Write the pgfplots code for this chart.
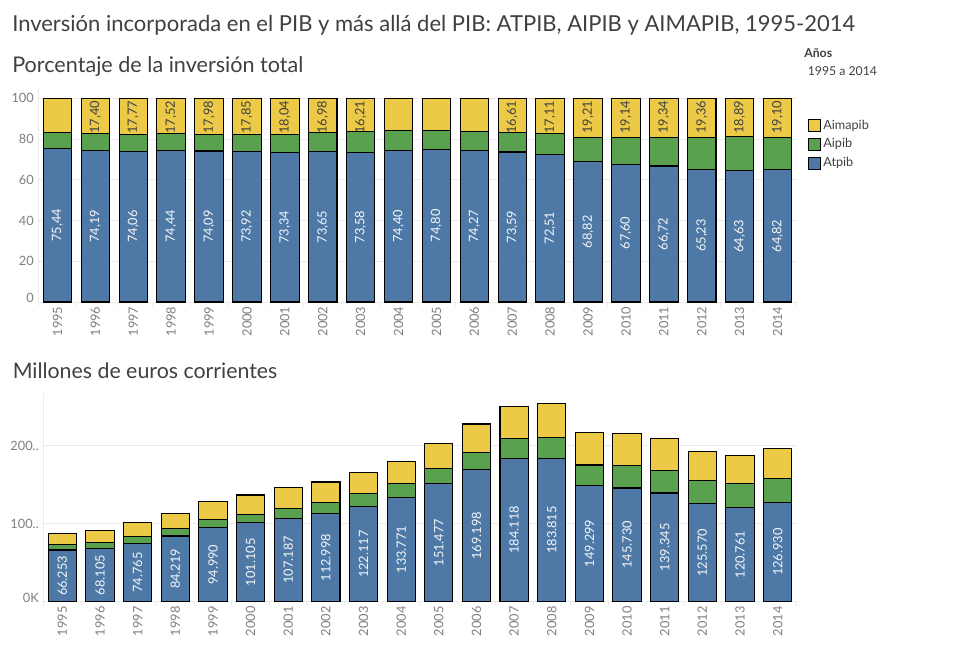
\documentclass[border=0pt]{standalone}
\usepackage{pgfplots}
\usepackage{pgfplotstable}
\pgfplotsset{compat=1.18}
\usepackage{fontspec}
\setmainfont{Lato}
\definecolor{cblue}{HTML}{4E79A7}
\definecolor{cgreen}{HTML}{59A14F}
\definecolor{cyellow}{HTML}{EDC948}
\definecolor{ttl}{HTML}{404040}
\definecolor{tickc}{HTML}{7F7F7F}
\definecolor{grd}{HTML}{EBEBEB}

\pgfplotstableread{
x  atpib aipib aimapib latp  laim
0  75.44 7.76  16.80   75,44 {}
1  74.19 8.41  17.40   74,19 17,40
2  74.06 8.17  17.77   74,06 17,77
3  74.44 8.04  17.52   74,44 17,52
4  74.09 7.93  17.98   74,09 17,98
5  73.92 8.23  17.85   73,92 17,85
6  73.34 8.62  18.04   73,34 18,04
7  73.65 9.37  16.98   73,65 16,98
8  73.58 10.21 16.21   73,58 16,21
9  74.40 9.90  15.70   74,40 {}
10 74.80 9.50  15.70   74,80 {}
11 74.27 9.53  16.20   74,27 {}
12 73.59 9.80  16.61   73,59 16,61
13 72.51 10.38 17.11   72,51 17,11
14 68.82 11.97 19.21   68,82 19,21
15 67.60 13.26 19.14   67,60 19,14
16 66.72 13.94 19.34   66,72 19,34
17 65.23 15.41 19.36   65,23 19,36
18 64.63 16.48 18.89   64,63 18,89
19 64.82 16.08 19.10   64,82 19,10
}\toptab

\pgfplotstableread{
x  atpib   aipib  aimapib latp
0  66.253  6.815  14.754  66.253
1  68.105  7.720  15.973  68.105
2  74.765  8.248  17.939  74.765
3  84.219  9.096  19.822  84.219
4  94.990  10.167 23.052  94.990
5  101.105 11.257 24.415  101.105
6  107.187 12.598 26.365  107.187
7  112.998 14.376 26.052  112.998
8  122.117 16.945 26.902  122.117
9  133.771 17.800 28.229  133.771
10 151.477 19.238 31.794  151.477
11 169.198 21.711 36.907  169.198
12 184.118 24.519 41.557  184.118
13 183.815 26.313 43.374  183.815
14 149.299 25.968 41.674  149.299
15 145.730 28.586 41.262  145.730
16 139.345 29.114 40.392  139.345
17 125.570 29.664 37.268  125.570
18 120.761 30.793 35.296  120.761
19 126.930 31.488 37.402  126.930
}\bottab

\pgfplotsset{
  common/.style={
    scale only axis,
    ybar stacked,
    bar width=0.75,
    xmin=-0.5, xmax=19.5,
    ymin=0,
    xtick={0,...,19},
    xticklabels={1995,1996,1997,1998,1999,2000,2001,2002,2003,2004,2005,2006,2007,2008,2009,2010,2011,2012,2013,2014},
    minor xtick={-0.5,0.5,...,19.5},
    tick align=outside,
    major tick length=0pt,
    minor tick length=3pt,
    minor x tick style={draw=grd, line width=0.6pt},
    major tick style={draw=none},
    axis x line*=bottom,
    axis y line*=left,
    axis line style={draw=grd, line width=0.6pt, -},
    ymajorgrids,
    grid style={draw=grd, line width=0.6pt},
    /pgf/number format/assume math mode=true,
    ticklabel style={font=\fontsize{9.6}{10}\selectfont, text=tickc},
    xticklabel style={rotate=90, anchor=east},
    every axis plot/.append style={draw=black, line width=0.8pt},
  },
  overlay/.style={
    scale only axis, hide axis, clip=false,
    xmin=-0.5, xmax=19.5, ymin=0,
  },
  lbl/.style={
    draw=none, mark=none,
    point meta=explicit symbolic,
    nodes near coords={\rotatebox{90}{\pgfplotspointmeta}},
    every node near coord/.append style={font=\fontsize{9.6}{9.6}\selectfont},
  },
}
\begin{document}
\begin{tikzpicture}
\begin{scope}[x=0.75pt,y=-0.75pt]
\path[use as bounding box] (0,0) rectangle (959,649);
\node[anchor=base west, inner sep=0pt, text=ttl, font=\fontsize{16.5}{16.5}\selectfont] at (12,31.5) {Inversión incorporada en el PIB y más allá del PIB: ATPIB, AIPIB y AIMAPIB, 1995-2014};
\node[anchor=base west, inner sep=0pt, text=ttl, font=\fontsize{16.2}{16.2}\selectfont] at (12,72.5) {Porcentaje de la inversión total};
\node[anchor=base west, inner sep=0pt, text=ttl, font=\fontsize{16}{16}\selectfont] at (12.5,378.3) {Millones de euros corrientes};
\node[anchor=base west, inner sep=0pt, text=ttl, font=\fontsize{9.2}{9.2}\selectfont\bfseries] at (804,58) {Años};
\node[anchor=base west, inner sep=0pt, text=ttl, font=\fontsize{9.2}{9.2}\selectfont] at (807.5,75.5) {1995 a 2014};
\end{scope}

% ---------- top chart: percentages ----------
\begin{axis}[common,
  at={(28.875pt,-226.5pt)}, anchor=south west,
  width=568.5pt, height=160.5pt,
  ymax=105,
  ytick={0,20,40,60,80,100},
  yticklabels={\raisebox{6pt}{0},20,40,60,80,100},
  reverse legend,
  legend cell align=left,
  legend image code/.code={\draw[#1, draw=black, line width=0.75pt] (0pt,-4.5pt) rectangle (9pt,4.5pt);},
  legend style={at={(1.0152,0.862)}, anchor=north west, draw=none, fill=none,
    inner sep=0pt, row sep=2.6pt, font=\fontsize{9.5}{10}\selectfont, text=ttl,
    nodes={inner sep=1.5pt}},
]
\addplot[fill=cblue] table[x=x, y=atpib] {\toptab};
\addlegendentry{Atpib}
\addplot[fill=cgreen] table[x=x, y=aipib] {\toptab};
\addlegendentry{Aipib}
\addplot[fill=cyellow] table[x=x, y=aimapib] {\toptab};
\addlegendentry{Aimapib}
\end{axis}
\begin{axis}[overlay,
  at={(28.875pt,-226.5pt)}, anchor=south west,
  width=568.5pt, height=160.5pt, ymax=105]
\addplot[lbl, every node near coord/.append style={anchor=center, text=white!93!cblue}]
  table[x=x, y expr=\thisrow{atpib}/2, meta=latp] {\toptab};
\addplot[lbl, every node near coord/.append style={anchor=north, inner sep=1.8pt, text=ttl}]
  table[x=x, y expr=\thisrow{atpib}+\thisrow{aipib}+\thisrow{aimapib}, meta=laim] {\toptab};
\end{axis}

% ---------- bottom chart: millions of euros ----------
\begin{axis}[common,
  at={(32.625pt,-451.275pt)}, anchor=south west,
  width=564.75pt, height=156.5pt,
  ymax=267.5,
  ytick={0,100,200},
  yticklabels={\raisebox{6pt}{0K},100..,200..},
]
\addplot[fill=cblue] table[x=x, y=atpib] {\bottab};
\addplot[fill=cgreen] table[x=x, y=aipib] {\bottab};
\addplot[fill=cyellow] table[x=x, y=aimapib] {\bottab};
\end{axis}
\begin{axis}[overlay,
  at={(32.625pt,-451.275pt)}, anchor=south west,
  width=564.75pt, height=156.5pt, ymax=267.5]
\addplot[lbl, every node near coord/.append style={anchor=center, text=white!93!cblue}]
  table[x=x, y expr=\thisrow{atpib}/2, meta=latp] {\bottab};
\end{axis}
\end{tikzpicture}
\end{document}
